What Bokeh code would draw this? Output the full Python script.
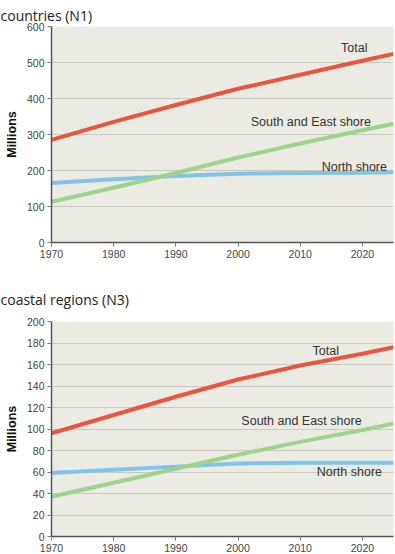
from bokeh.plotting import figure
from bokeh.layouts import column
from bokeh.models import Label, Range1d, FixedTicker, Title
from bokeh.embed import file_html
from bokeh.resources import INLINE

years = [1970, 1980, 1990, 2000, 2010, 2020, 2025]

# countries (N1), millions
n1_total = [285, 335, 382, 427, 466, 505, 524]
n1_south_east = [113, 152, 193, 236, 275, 312, 330]
n1_north = [165, 176, 185, 191, 193, 194, 195]

# coastal regions (N3), millions
n3_total = [96, 113, 130, 146, 159, 170, 176]
n3_south_east = [37, 50, 63, 76, 88, 99, 105]
n3_north = [59, 62, 65, 68, 68.5, 68.5, 68.5]

x_ticks = [1970, 1980, 1990, 2000, 2010, 2020]
n1_y_ticks = [0, 100, 200, 300, 400, 500, 600]
n3_y_ticks = [0, 20, 40, 60, 80, 100, 120, 140, 160, 180, 200]

RED = "#e9553e"
GREEN = "#9dd38a"
BLUE = "#80c4ec"
BG = "#ecebe3"
GRID = "#c9c8c0"
TICK_FONT = "Liberation Sans"


def make_chart(title, total, se, north, yticks, ymax, labels, height,
               top_border, bottom_border, title_standoff):
    p = figure(width=395, height=height, output_backend="svg", toolbar_location=None,
               x_range=Range1d(1970, 2025), y_range=Range1d(0, ymax),
               min_border_left=51, min_border_right=2, min_border_top=top_border,
               min_border_bottom=bottom_border)
    p.title = Title(text=title, text_font="Open Sans", text_font_size="14px",
                    text_font_style="normal", text_color="#222222", offset=-51,
                    standoff=title_standoff)
    p.border_fill_color = "white"
    p.background_fill_color = BG
    p.outline_line_color = None

    p.xgrid.grid_line_color = None
    p.ygrid.grid_line_color = GRID
    p.ygrid.grid_line_width = 1
    p.ygrid.ticker = FixedTicker(ticks=yticks)

    p.xaxis.ticker = FixedTicker(ticks=x_ticks)
    p.yaxis.ticker = FixedTicker(ticks=yticks)
    for ax in (p.xaxis[0], p.yaxis[0]):
        ax.axis_line_color = "#555555"
        ax.axis_line_width = 1.5
        ax.major_tick_line_color = "#777777"
        ax.major_tick_out = 4
        ax.major_tick_in = 0
        ax.minor_tick_line_color = None
        ax.major_label_text_font = TICK_FONT
        ax.major_label_text_font_size = "10.5px"
        ax.major_label_text_color = "#444444"
    p.xaxis.major_label_standoff = 3
    p.yaxis.major_label_standoff = 3
    p.yaxis.axis_label = "Millions"
    p.yaxis.axis_label_text_font = TICK_FONT
    p.yaxis.axis_label_text_font_style = "bold"
    p.yaxis.axis_label_text_font_size = "12.5px"
    p.yaxis.axis_label_text_color = "#111111"
    p.yaxis.axis_label_standoff = 5

    p.line(years, north, line_color=BLUE, line_width=4)
    p.line(years, se, line_color=GREEN, line_width=4)
    p.line(years, total, line_color=RED, line_width=4)

    for (txt, lx, ly) in labels:
        p.add_layout(Label(x=lx, y=ly, text=txt, text_font=TICK_FONT,
                           text_font_size="12.5px", text_color="#333333",
                           text_align="center", text_baseline="middle"))
    return p


p1 = make_chart("countries (N1)", n1_total, n1_south_east, n1_north,
                n1_y_ticks, 600,
                [("Total", 2018.7, 539), ("South and East shore", 2011.7, 336),
                 ("North shore", 2018.7, 211)],
                270, 26, 28, 4)
p2 = make_chart("coastal regions (N3)", n3_total, n3_south_east, n3_north,
                n3_y_ticks, 200,
                [("Total", 2014.1, 173), ("South and East shore", 2010.2, 107),
                 ("North shore", 2017.9, 60)],
                284, 51, 16, 26)

layout = column(p1, p2, spacing=0)
open("out.html", "w").write(file_html(layout, INLINE))
